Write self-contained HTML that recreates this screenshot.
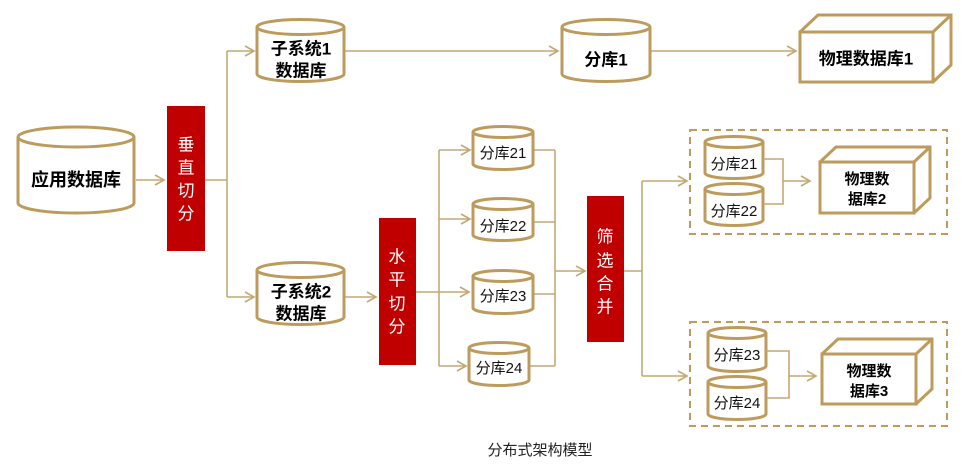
<!DOCTYPE html>
<html><head><meta charset="utf-8"><style>
html,body{margin:0;padding:0;background:#fff;}
svg{display:block;}
text{font-family:"Liberation Sans","Noto Sans CJK SC",sans-serif;text-anchor:middle;dominant-baseline:middle;}
.c{fill:#fff;stroke:#BC9B5C;stroke-width:3;}
.l{fill:none;stroke:#C4A874;stroke-width:1.6;}
.r{fill:#C00000;}
.w{fill:#fff;font-size:17px;}
.b{fill:#000;font-weight:bold;}
.n{fill:#111;font-size:15px;}
</style></head><body>
<svg width="967" height="467" viewBox="0 0 967 467" xmlns="http://www.w3.org/2000/svg">
<defs>
<marker id="a" markerWidth="12" markerHeight="12" refX="10" refY="6" orient="auto" markerUnits="userSpaceOnUse">
<path d="M1,1 L10,6 L1,11" fill="none" stroke="#C4A874" stroke-width="1.6"/>
</marker>
</defs>

<line class="l" x1="136" y1="180" x2="164" y2="180" marker-end="url(#a)"/>
<polyline class="l" points="205,180 227,180"/>
<line class="l" x1="227" y1="51" x2="227" y2="297"/>
<line class="l" x1="227" y1="51" x2="254" y2="51" marker-end="url(#a)"/>
<line class="l" x1="227" y1="297" x2="254" y2="297" marker-end="url(#a)"/>
<line class="l" x1="345" y1="51" x2="558" y2="51" marker-end="url(#a)"/>
<line class="l" x1="651" y1="51" x2="796" y2="51" marker-end="url(#a)"/>
<line class="l" x1="345" y1="297" x2="376" y2="297" marker-end="url(#a)"/>
<line class="l" x1="416" y1="292" x2="469" y2="292" marker-end="url(#a)"/>
<line class="l" x1="439" y1="150" x2="439" y2="366"/>
<line class="l" x1="439" y1="150" x2="470" y2="150" marker-end="url(#a)"/>
<line class="l" x1="439" y1="219" x2="470" y2="219" marker-end="url(#a)"/>
<line class="l" x1="439" y1="366" x2="466" y2="366" marker-end="url(#a)"/>
<line class="l" x1="533" y1="150" x2="555" y2="150"/>
<line class="l" x1="533" y1="222" x2="555" y2="222"/>
<line class="l" x1="533" y1="294" x2="555" y2="294"/>
<line class="l" x1="529" y1="366" x2="555" y2="366"/>
<line class="l" x1="555" y1="150" x2="555" y2="366"/>
<line class="l" x1="555" y1="271" x2="585" y2="271" marker-end="url(#a)"/>
<line class="l" x1="624" y1="271" x2="642" y2="271"/>
<line class="l" x1="642" y1="181" x2="642" y2="376"/>
<line class="l" x1="642" y1="181" x2="687" y2="181" marker-end="url(#a)"/>
<line class="l" x1="642" y1="376" x2="687" y2="376" marker-end="url(#a)"/>

<path class="c" d="M18,137 L18,203 A58,10 0 0 0 134,203 L134,137"/>
<ellipse class="c" cx="76" cy="137" rx="58" ry="10"/>
<text class="b" x="76" y="181" font-size="18">应用数据库</text>

<rect class="r" x="167" y="106" width="38" height="145"/>
<text class="w" x="186" y="146">垂</text><text class="w" x="186" y="169">直</text><text class="w" x="186" y="192">切</text><text class="w" x="186" y="215">分</text>
<rect class="r" x="379" y="218" width="37" height="147"/>
<text class="w" x="397" y="258">水</text><text class="w" x="397" y="281">平</text><text class="w" x="397" y="305">切</text><text class="w" x="397" y="328">分</text>
<rect class="r" x="587" y="196" width="37" height="146"/>
<text class="w" x="605" y="238">筛</text><text class="w" x="605" y="262">选</text><text class="w" x="605" y="285">合</text><text class="w" x="605" y="308">并</text>

<path class="c" d="M257,27 L257,74 A43.5,7.5 0 0 0 344,74 L344,27"/>
<ellipse class="c" cx="300.5" cy="27" rx="43.5" ry="7.5"/>
<text class="b" x="301" y="50" font-size="17">子系统1</text><text class="b" x="301" y="72" font-size="17">数据库</text>
<path class="c" d="M257,270 L257,317 A43.5,7.5 0 0 0 344,317 L344,270"/>
<ellipse class="c" cx="300.5" cy="270" rx="43.5" ry="7.5"/>
<text class="b" x="301" y="293" font-size="17">子系统2</text><text class="b" x="301" y="315" font-size="17">数据库</text>

<path class="c" d="M562,27 L562,74 A44,7.5 0 0 0 650,74 L650,27"/>
<ellipse class="c" cx="606" cy="27" rx="44" ry="7.5"/>
<text class="b" x="606" y="61" font-size="17">分库1</text>

<path class="c" d="M800,32 L818,15 L951,15 L951,65 L933,82 M933,32 L951,15"/>
<rect class="c" x="800" y="32" width="133" height="50"/>
<text class="b" x="866" y="60" font-size="17">物理数据库1</text>

<path class="c" d="M473,132 L473,164 A30,5.5 0 0 0 533,164 L533,132"/><ellipse class="c" cx="503" cy="132" rx="30" ry="5.5"/>
<text class="n" x="503" y="154">分库21</text>
<path class="c" d="M473,204 L473,235 A30,5.5 0 0 0 533,235 L533,204"/><ellipse class="c" cx="503" cy="204" rx="30" ry="5.5"/>
<text class="n" x="503" y="227">分库22</text>
<path class="c" d="M473,276 L473,308 A30,5.5 0 0 0 533,308 L533,276"/><ellipse class="c" cx="503" cy="276" rx="30" ry="5.5"/>
<text class="n" x="503" y="297">分库23</text>
<path class="c" d="M469,348 L469,380 A30,5.5 0 0 0 529,380 L529,348"/><ellipse class="c" cx="499" cy="348" rx="30" ry="5.5"/>
<text class="n" x="499" y="369">分库24</text>

<rect x="690" y="130" width="257" height="104" fill="none" stroke="#BC9B5C" stroke-width="2" stroke-dasharray="7,5"/>
<path class="c" d="M705,142 L705,173 A29,5.5 0 0 0 763,173 L763,142"/><ellipse class="c" cx="734" cy="142" rx="29" ry="5.5"/>
<text class="n" x="734" y="165">分库21</text>
<path class="c" d="M705,189 L705,220 A29,5.5 0 0 0 763,220 L763,189"/><ellipse class="c" cx="734" cy="189" rx="29" ry="5.5"/>
<text class="n" x="734" y="212">分库22</text>
<polyline class="l" points="763,159 783,159 783,204 763,204"/>
<line class="l" x1="783" y1="181" x2="810" y2="181" marker-end="url(#a)"/>
<path class="c" d="M820,162 L836,147 L930,147 L930,198 L914,213 M914,162 L930,147"/>
<rect class="c" x="820" y="162" width="94" height="51"/>
<text class="b" x="867" y="180" font-size="15">物理数</text><text class="b" x="867" y="200" font-size="15">据库2</text>

<rect x="690" y="322" width="257" height="104" fill="none" stroke="#BC9B5C" stroke-width="2" stroke-dasharray="7,5"/>
<path class="c" d="M708,333 L708,366 A29,5.5 0 0 0 766,366 L766,333"/><ellipse class="c" cx="737" cy="333" rx="29" ry="5.5"/>
<text class="n" x="737" y="356">分库23</text>
<path class="c" d="M708,382 L708,414 A29,5.5 0 0 0 766,414 L766,382"/><ellipse class="c" cx="737" cy="382" rx="29" ry="5.5"/>
<text class="n" x="737" y="404">分库24</text>
<polyline class="l" points="766,351 789,351 789,398 766,398"/>
<line class="l" x1="789" y1="376" x2="816" y2="376" marker-end="url(#a)"/>
<path class="c" d="M822,354 L838,339 L932,339 L932,389 L916,404 M916,354 L932,339"/>
<rect class="c" x="822" y="354" width="94" height="50"/>
<text class="b" x="869" y="372" font-size="15">物理数</text><text class="b" x="869" y="392" font-size="15">据库3</text>

<text x="540" y="451" font-size="15" fill="#222">分布式架构模型</text>
</svg>
</body></html>
